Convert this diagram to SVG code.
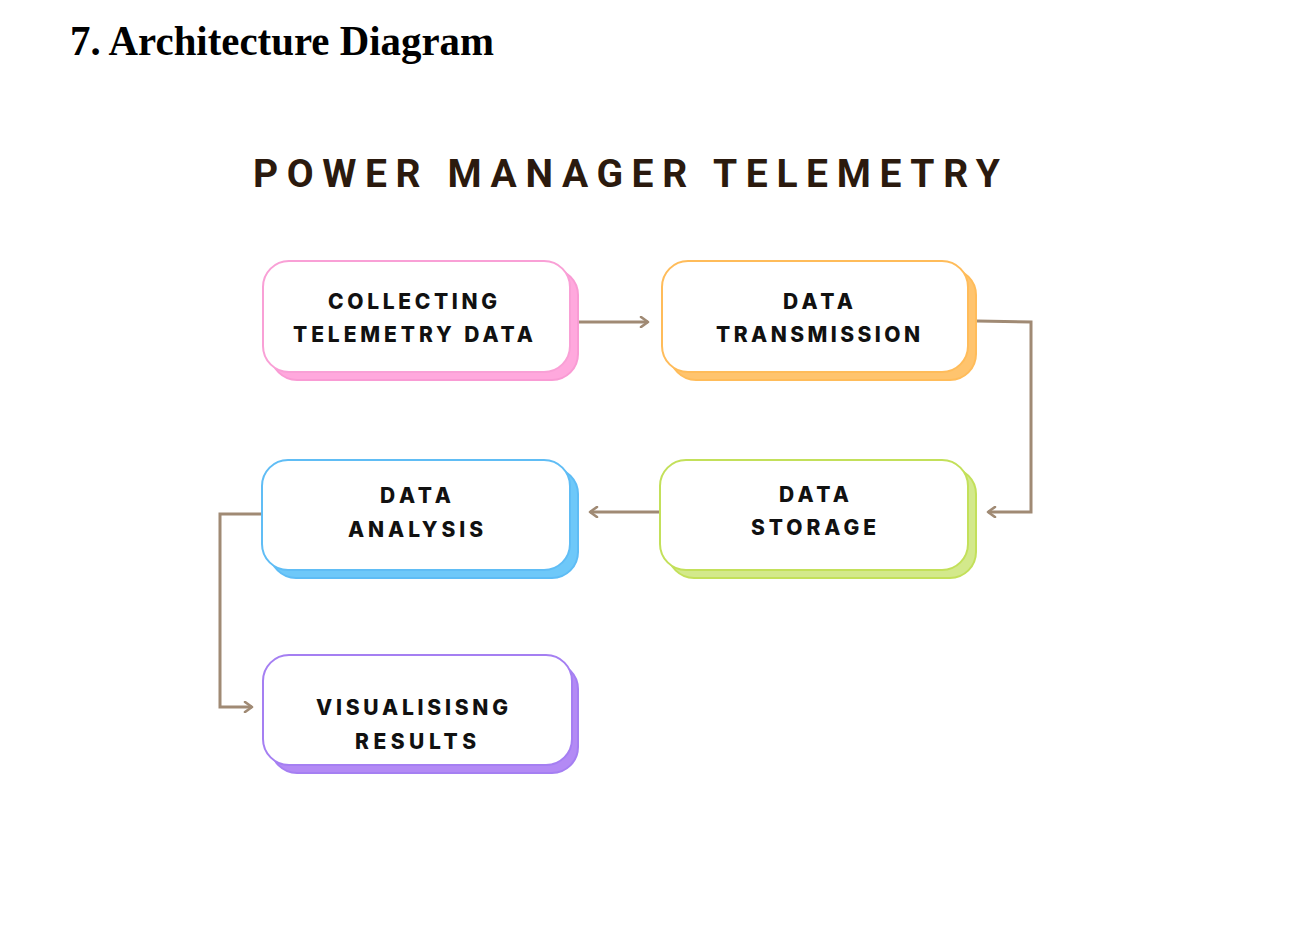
<svg xmlns="http://www.w3.org/2000/svg" width="1298" height="941" viewBox="0 0 1298 941">
<defs>
<style>
.heading{font-family:"Liberation Serif","Times New Roman",serif;font-weight:700;font-size:42px;fill:#000}
.title{font-family:Roboto,"Liberation Sans",sans-serif;font-weight:700;font-size:39px;fill:#2b1a0e}
.lbl{font-family:Inter,"Liberation Sans",sans-serif;font-weight:800;font-size:21px;fill:#111}
.front{fill:#fff;stroke-width:2}
.conn{fill:none;stroke:#a08a74;stroke-width:3}
</style>
<marker id="arr" viewBox="0 0 12 12" refX="10" refY="6" markerWidth="12" markerHeight="12" markerUnits="userSpaceOnUse" orient="auto">
<path d="M3,1 L10,6 L3,11" fill="none" stroke="#a08a74" stroke-width="2.6" stroke-linecap="round" stroke-linejoin="round"/>
</marker>
</defs>
<rect width="1298" height="941" fill="#fff"/>
<text class="heading" x="70" y="55" textLength="424" lengthAdjust="spacingAndGlyphs">7. Architecture Diagram</text>
<text class="title" x="253" y="187" textLength="747" lengthAdjust="spacing">POWER MANAGER TELEMETRY</text>

<g id="connectors">
<path class="conn" d="M579,322 H648" marker-end="url(#arr)"/>
<path class="conn" d="M977,321 L1031,322 V512 H988" marker-end="url(#arr)"/>
<path class="conn" d="M659,512 H590" marker-end="url(#arr)"/>
<path class="conn" d="M262,514 H220 V707 H252" marker-end="url(#arr)"/>
</g>

<g id="collecting">
<rect x="271" y="269" width="307" height="111" rx="26" fill="#ffa8dd" stroke="#f99bd4" stroke-width="2"/>
<rect class="front" x="263" y="261" width="307" height="111" rx="26" stroke="#f9a0d6"/>
<text class="lbl" x="328" y="309" textLength="169" lengthAdjust="spacing">COLLECTING</text>
<text class="lbl" x="293" y="342" textLength="240" lengthAdjust="spacing">TELEMETRY DATA</text>
</g>

<g id="transmission">
<rect x="670" y="269" width="306" height="111" rx="26" fill="#ffc46e" stroke="#ffbc5a" stroke-width="2"/>
<rect class="front" x="662" y="261" width="306" height="111" rx="26" stroke="#ffbc5a"/>
<text class="lbl" x="783" y="309" textLength="70" lengthAdjust="spacing">DATA</text>
<text class="lbl" x="716" y="342" textLength="204" lengthAdjust="spacing">TRANSMISSION</text>
</g>

<g id="analysis">
<rect x="270" y="468" width="308" height="110" rx="26" fill="#6ec8f9" stroke="#5ebcf5" stroke-width="2"/>
<rect class="front" x="262" y="460" width="308" height="110" rx="26" stroke="#60bdf5"/>
<text class="lbl" x="380" y="503" textLength="71" lengthAdjust="spacing">DATA</text>
<text class="lbl" x="348" y="537" textLength="135" lengthAdjust="spacing">ANALYSIS</text>
</g>

<g id="storage">
<rect x="668" y="468" width="308" height="110" rx="26" fill="#d3e98b" stroke="#c3e05a" stroke-width="2"/>
<rect class="front" x="660" y="460" width="308" height="110" rx="26" stroke="#c3e05a"/>
<text class="lbl" x="779" y="502" textLength="70" lengthAdjust="spacing">DATA</text>
<text class="lbl" x="751" y="535" textLength="125" lengthAdjust="spacing">STORAGE</text>
</g>

<g id="visualising">
<rect x="271" y="663" width="307" height="110" rx="26" fill="#b38af5" stroke="#a57ff2" stroke-width="2"/>
<rect class="front" x="263" y="655" width="309" height="110" rx="26" stroke="#a57ff2"/>
<text class="lbl" x="316" y="715" textLength="192" lengthAdjust="spacing">VISUALISISNG</text>
<text class="lbl" x="355" y="749" textLength="121" lengthAdjust="spacing">RESULTS</text>
</g>
</svg>
